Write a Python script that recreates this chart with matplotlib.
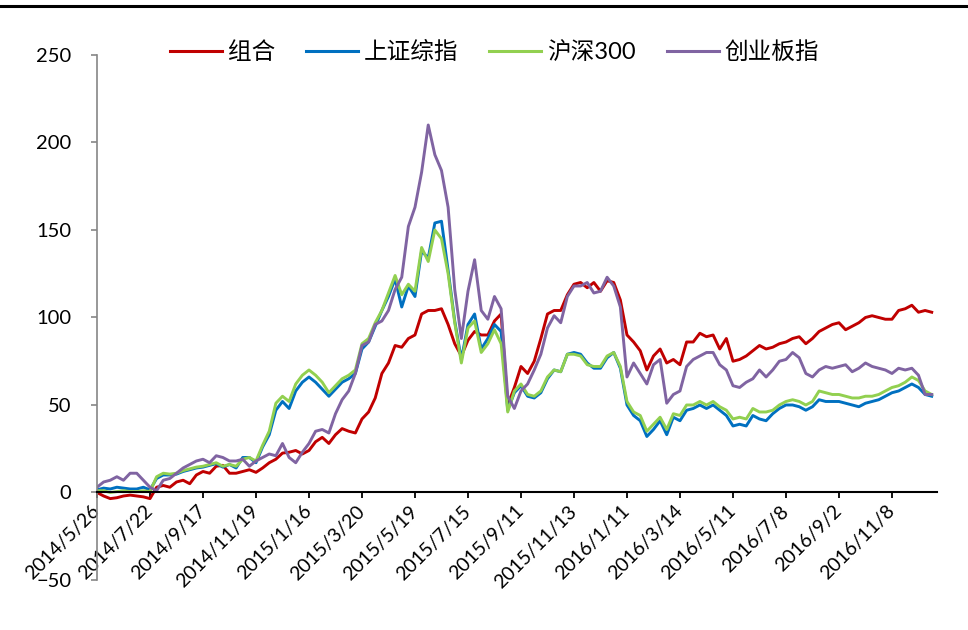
import numpy as np
import matplotlib
matplotlib.use("Agg")
import matplotlib.pyplot as plt
from matplotlib.lines import Line2D

tick_labels = ["2014/5/26", "2014/7/22", "2014/9/17", "2014/11/19", "2015/1/16",
               "2015/3/20", "2015/5/19", "2015/7/15", "2015/9/11", "2015/11/13",
               "2016/1/11", "2016/3/14", "2016/5/11", "2016/7/8", "2016/9/2",
               "2016/11/8"]
days_per_tick = 40
days_per_sample = 5
total_days = 634

series_names = ["组合", "上证综指", "沪深300", "创业板指"]

combo = [0, -2, -3.5, -3, -2, -1.5, -2, -2.5, -3.5, 3, 4, 3, 6, 7, 5, 10, 12, 11, 15, 15.5, 11, 11,
         12, 13, 11.5, 14, 17, 19, 22.5, 23, 24, 22, 24, 29, 31.5, 28, 33, 36.5, 35, 34, 42, 46,
         54, 68, 74, 84, 83, 88, 90, 102, 104, 104, 105, 96, 85, 78, 87, 92, 90, 90, 98, 102,
         50, 60, 72, 68, 75, 88, 102, 104, 104, 113, 119, 120, 117, 120, 115, 121, 120, 110, 90, 86,
         81, 70, 78, 82, 74, 76, 73, 86, 86, 91, 89, 90, 82, 88, 75, 76, 78, 81, 84, 82,
         83, 85, 86, 88, 89, 85, 88, 92, 94, 96, 97, 93, 95, 97, 100, 101, 100, 99, 99, 104, 105, 107, 103, 104, 103]

shanghai = [1.5, 2.5, 2, 3, 2.5, 2, 2, 3, 1.5, 8, 10, 10, 10.5, 12, 13, 14, 14.5, 15.5, 16.5, 14.5, 16, 14,
            20, 20, 17, 26, 33, 47, 52, 48, 58, 63, 66, 63, 59, 55, 59, 63, 65, 68, 82, 86,
            95, 104, 112, 122, 106, 118, 112, 138, 134, 154, 155, 127, 98, 76, 96, 102, 82, 88, 96, 92,
            47, 57, 61, 55, 54, 57, 65, 70, 69, 79, 80, 79, 74, 71, 71, 77, 80, 71, 50, 44,
            41, 32, 36, 41, 33, 43, 41, 47, 48, 50, 48, 50, 47, 44, 38, 39, 38, 44, 42, 41,
            45, 48, 50, 50, 49, 47, 49, 53, 52, 52, 52, 51, 50, 49, 51, 52, 53, 55, 57, 58, 60, 62, 60, 56, 55]

hs300 = [1, 1, 0, 0.5, 1, 0.5, 0.5, 1, 0.5, 9, 11, 10.5, 11, 12.5, 13.5, 14.5, 15, 16, 17, 15, 16, 15,
         19, 20, 18, 27, 35, 51, 55, 52, 62, 67, 70, 67, 63, 57, 61, 65, 67, 70, 85, 88,
         97, 104, 114, 124, 113, 119, 115, 140, 132, 150, 145, 125, 97, 74, 94, 98, 80, 85, 93, 85,
         46, 58, 62, 56, 55, 58, 66, 70, 69, 79, 79, 78, 73, 72, 72, 78, 80, 72, 52, 46,
         44, 35, 39, 43, 36, 45, 44, 50, 50, 52, 50, 52, 49, 47, 42, 43, 42, 48, 46, 46,
         47, 50, 52, 53, 52, 50, 52, 58, 57, 56, 56, 55, 54, 54, 55, 55, 56, 58, 60, 61, 63, 66, 64, 58, 56]

chinext = [3, 6, 7, 9, 7, 11, 11, 7, 3, 1, 7, 8, 11, 14, 16, 18, 19, 17, 21, 20, 18, 18,
           19, 15, 18, 20, 22, 21, 28, 20, 17, 23, 28, 35, 36, 34, 45, 53, 58, 68, 84, 86,
           96, 98, 104, 116, 123, 152, 163, 183, 210, 193, 184, 163, 116, 88, 115, 133, 104, 99, 112, 105,
           55, 48, 58, 62, 70, 79, 94, 101, 97, 112, 118, 118, 120, 114, 115, 123, 118, 106, 66, 74,
           68, 62, 73, 76, 51, 56, 58, 72, 76, 78, 80, 80, 73, 70, 61, 60, 63, 65, 70, 66,
           70, 75, 76, 80, 77, 68, 66, 70, 72, 71, 72, 73, 69, 71, 74, 72, 71, 70, 68, 71, 70, 71, 67, 56, 56]

colors = ["#C00000", "#0070C0", "#92D050", "#8064A2"]

# ---- plotting ----
plt.rcParams["font.family"] = ["Lato", "Noto Sans CJK SC", "DejaVu Sans"]

fig = plt.figure(figsize=(9.68, 6.3), dpi=100)
ax = fig.add_axes([0.1002, 0.0794, 0.8678, 0.8333])

for vals, name, col in zip([combo, shanghai, hs300, chinext], series_names, colors):
    x = np.arange(len(vals)) * days_per_sample
    ax.plot(x, vals, color=col, lw=2.1, label=name, solid_joinstyle="round")

ax.set_xlim(0, total_days)
ax.set_ylim(-50, 250)
ax.set_yticks(np.arange(-50, 251, 50))

for s in ["top", "right"]:
    ax.spines[s].set_visible(False)
ax.spines["bottom"].set_position(("data", 0))
ax.spines["bottom"].set_color("black")
ax.spines["bottom"].set_linewidth(1.5)
ax.spines["left"].set_color("#868686")
ax.spines["left"].set_linewidth(1.2)

tick_pos = np.arange(len(tick_labels)) * days_per_tick
ax.set_xticks(tick_pos)
ax.set_xticklabels(tick_labels, rotation=45, ha="right", va="center",
                   rotation_mode="anchor", fontsize=14)
ax.tick_params(axis="x", direction="out", length=4.5, width=1.3, color="black", pad=7)
ax.tick_params(axis="y", direction="out", length=4.5, width=1.2, color="#868686",
               labelsize=14.5, pad=14)

leg = fig.legend(loc="center", bbox_to_anchor=(0.511, 0.917), ncol=4, frameon=False,
                 fontsize=17, handlelength=2.2, handletextpad=0.26, columnspacing=1.3)
for h in leg.get_lines():
    h.set_linewidth(2.2)

fig.add_artist(Line2D([0, 1], [0.9905, 0.9905], color="black", lw=2.2,
                      transform=fig.transFigure))

fig.savefig("out.png", dpi=100)
